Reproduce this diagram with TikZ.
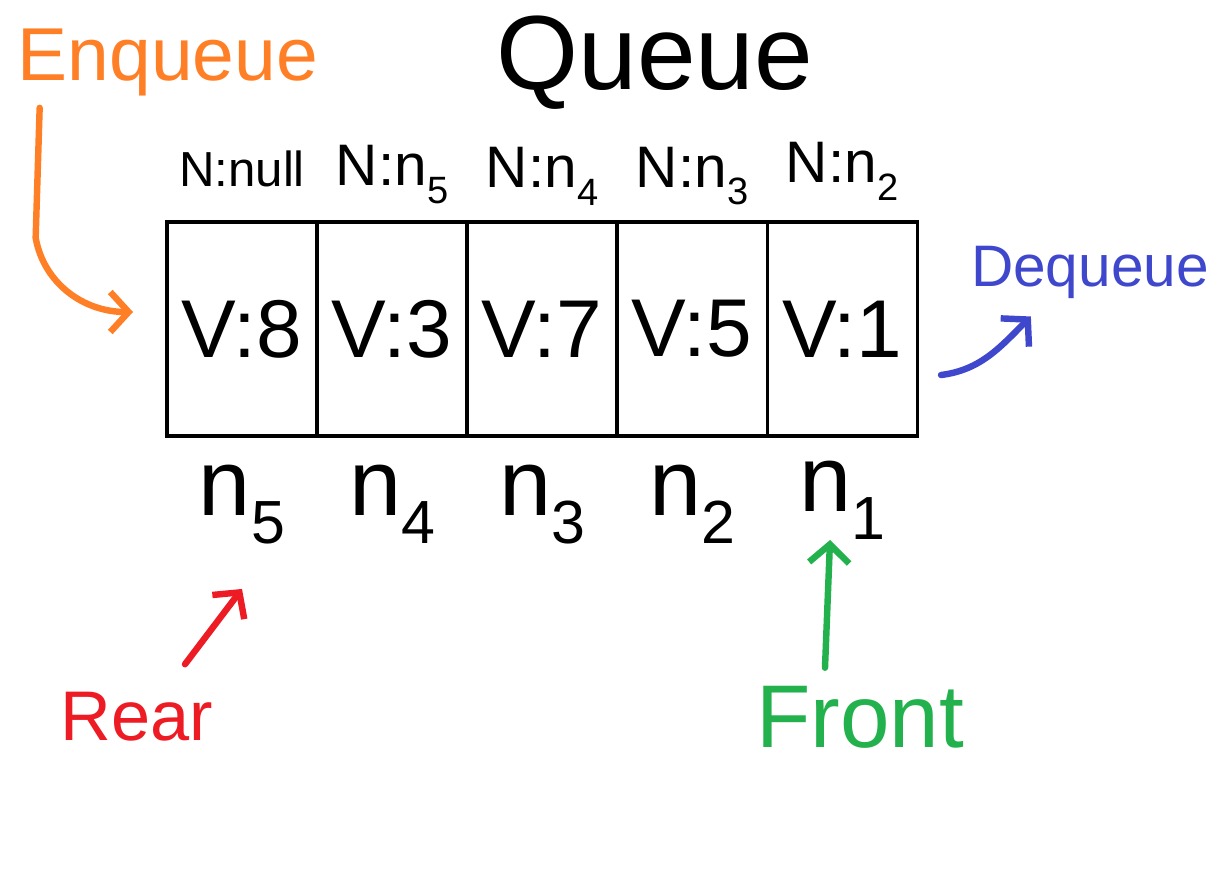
\documentclass[tikz,border=0pt]{standalone}
\usepackage{fontspec}
\usepackage{graphicx}
\setmainfont{Liberation Sans}
\usetikzlibrary{arrows.meta,positioning}
\newcommand{\nsub}[1]{\raisebox{-0.3em}{\scalebox{0.65}{#1}}}
\definecolor{qorange}{HTML}{FF7F27}
\definecolor{qblue}{HTML}{3F48CC}
\definecolor{qred}{HTML}{ED1C24}
\definecolor{qgreen}{HTML}{22B14C}
\tikzset{
  cellBox/.style={draw, line width=2.6pt, minimum width=4.5cm, minimum height=6.42cm, outer sep=0pt, inner sep=0pt, font=\fontsize{70}{80}\selectfont},
  nextLabel/.style={font=\fontsize{50}{56}\selectfont, inner sep=0pt},
  nameLabel/.style={font=\fontsize{80}{90}\selectfont, inner sep=0pt},
  titleLabel/.style={font=\fontsize{90}{100}\selectfont, inner sep=0pt},
  opLabel/.style={font=\fontsize{64}{72}\selectfont, inner sep=0pt},
  handArrow/.style={-{Straight Barb[length=5.5mm,width=12mm]}, line width=5.5pt, line cap=round, line join=round}
}
\begin{document}
\begin{tikzpicture}[x=0.03cm,y=-0.03cm]
  \useasboundingbox (0,0) rectangle (1222,870);
  \node[titleLabel] (title) at (655,63) {Queue};
  % the five cells, rear to front
  \node[cellBox] (c1) at (242,329) {V:8};
  \node[cellBox, right=0pt of c1] (c2) {V:3};
  \node[cellBox, right=0pt of c2] (c3) {V:7};
  \node[cellBox, right=0pt of c3] (c4) {V:5};
  \node[cellBox, right=0pt of c4] (c5) {V:1};
  \node[nextLabel, font=\fontsize{42}{48}\selectfont, above=1.05cm of c1] (p1) {N:null};
  \node[nextLabel, above=0.55cm of c2] (p2) {N:n\nsub{5}};
  \node[nextLabel, above=0.5cm of c3] (p3) {N:n\nsub{4}};
  \node[nextLabel, above=0.5cm of c4] (p4) {N:n\nsub{3}};
  \node[nextLabel, above=0.65cm of c5] (p5) {N:n\nsub{2}};
  \node[nameLabel, below=0.85cm of c1] (b1) {n\nsub{5}};
  \node[nameLabel, below=0.85cm of c2] (b2) {n\nsub{4}};
  \node[nameLabel, below=0.85cm of c3] (b3) {n\nsub{3}};
  \node[nameLabel, below=0.85cm of c4] (b4) {n\nsub{2}};
  \node[nameLabel, below=0.75cm of c5] (b5) {n\nsub{1}};
  % operations and pointers
  \node[opLabel, text=qorange] (enq) at (168,62) {Enqueue};
  \node[opLabel, text=qblue, font=\fontsize{50}{56}\selectfont] (deq) at (1090,272) {Dequeue};
  \node[opLabel, text=qred, font=\fontsize{60}{68}\selectfont] (rear) at (137,717) {Rear};
  \node[opLabel, text=qgreen, font=\fontsize{76}{84}\selectfont] (front) at (860,717) {Front};
  \coordinate (enqStart) at ([shift={(22,12)}]enq.south west);
  \coordinate (enqEnd) at ([shift={(-34,-17)}]c1.west);
  \coordinate (deqStart) at ([shift={(24,46)}]c5.east);
  \coordinate (deqEnd) at ([shift={(60,18)}]deq.south west);
  \coordinate (rearStart) at ([shift={(48,-28)}]rear.north);
  \coordinate (rearEnd) at ([shift={(0,45)}]b1.south);
  \coordinate (frontStart) at ([shift={(-35,-18)}]front.north);
  \coordinate (frontEnd) at ([shift={(-12,0)}]b5.south);
  \draw[handArrow, qorange] (enqStart) -- ++(-4,130) .. controls +(8,45) and +(-50,0) .. (enqEnd);
  \draw[handArrow, qblue] (deqStart) .. controls +(40,-5) and +(-30,30) .. (deqEnd);
  \draw[handArrow, qred] (rearStart) -- (rearEnd);
  \draw[handArrow, qgreen] (frontStart) -- (frontEnd);
\end{tikzpicture}
\end{document}
